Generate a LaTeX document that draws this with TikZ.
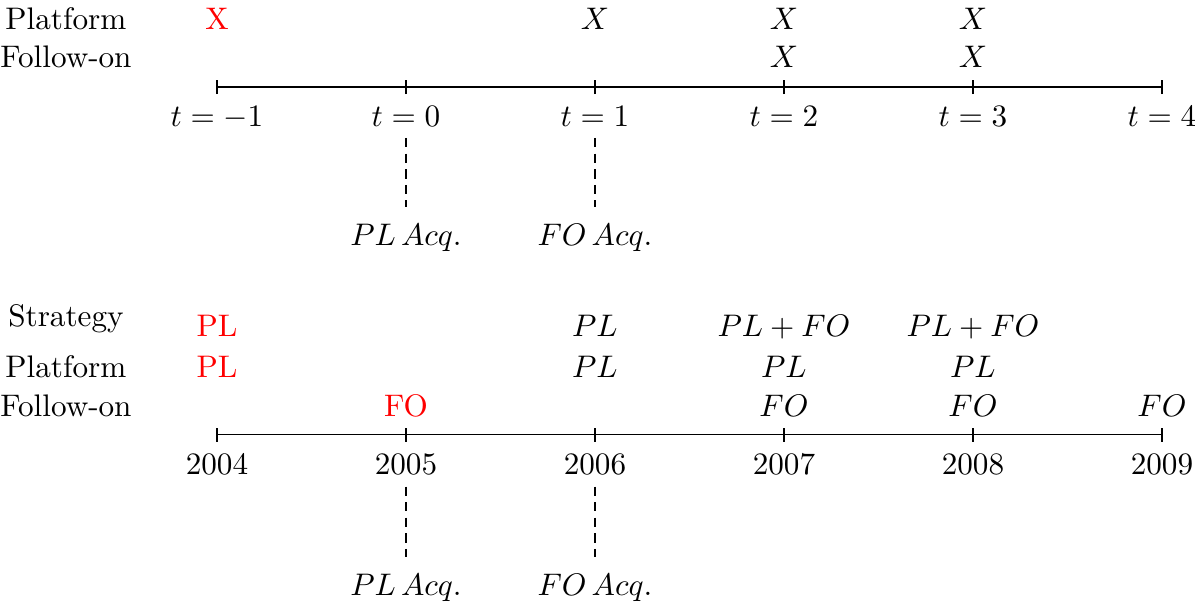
\documentclass[tikz,border=0pt]{standalone}
\begin{document}
\begin{tikzpicture}[x=2.13cm, y=1cm,
    lbl/.style={anchor=base},
    hl/.style={anchor=base, text=red},
    acqline/.style={thick, densely dashed, shorten >=2pt}]
    \useasboundingbox (-1.148,0.980) rectangle (5.175,-5.813);

    % Upper timeline: periods t = -1 ... 4
    \node[lbl] (uplat) at (-0.799,0.642) {Platform};
    \node[lbl] (ufol) at (-0.799,0.214) {Follow-on};
    \draw (0,0) -- (5,0);
    \foreach \i/\lab in {0/-1,1/0,2/1,3/2,4/3,5/4} {
        \draw (\i,-0.08) -- (\i,0.08);
        \node[lbl] (t\i) at (\i,-0.451) {$t=\lab$};
    }
    \node[hl] (ux0) at (0,0.642) {X};
    \foreach \i in {2,3,4} {
        \node[lbl] (ux\i) at (\i,0.642) {$X$};
    }
    \foreach \i in {3,4} {
        \node[lbl] (uy\i) at (\i,0.214) {$X$};
    }
    \node[lbl] (uacq1) at (1,-1.791) {$PL\,Acq.$};
    \node[lbl] (uacq2) at (2,-1.791) {$FO\,Acq.$};
    \draw[acqline] (t1.south) -- (uacq1.north);
    \draw[acqline] (t2.south) -- (uacq2.north);

    % Lower timeline: calendar years
    \node[lbl] (lstrat) at (-0.799,-2.704) {Strategy};
    \node[lbl] (lplat) at (-0.799,-3.278) {Platform};
    \node[lbl] (lfol) at (-0.799,-3.717) {Follow-on};
    \draw (0,-3.920) -- (5,-3.920);
    \foreach \i/\yr in {0/2004,1/2005,2/2006,3/2007,4/2008,5/2009} {
        \draw (\i,-4.0) -- (\i,-3.84);
        \node[lbl] (y\i) at (\i,-4.371) {\yr};
    }
    \node[hl] (ls0) at (0,-2.816) {PL};
    \node[lbl] (ls2) at (2,-2.816) {$PL$};
    \foreach \i in {3,4} {
        \node[lbl] (ls\i) at (\i,-2.816) {$PL+FO$};
    }
    \node[hl] (lp0) at (0,-3.278) {PL};
    \foreach \i in {2,3,4} {
        \node[lbl] (lp\i) at (\i,-3.278) {$PL$};
    }
    \node[hl] (lf1) at (1,-3.717) {FO};
    \foreach \i in {3,4,5} {
        \node[lbl] (lf\i) at (\i,-3.717) {$FO$};
    }
    \node[lbl] (lacq1) at (1,-5.734) {$PL\,Acq.$};
    \node[lbl] (lacq2) at (2,-5.734) {$FO\,Acq.$};
    \draw[acqline] (y1.south) -- (lacq1.north);
    \draw[acqline] (y2.south) -- (lacq2.north);
\end{tikzpicture}
\end{document}
